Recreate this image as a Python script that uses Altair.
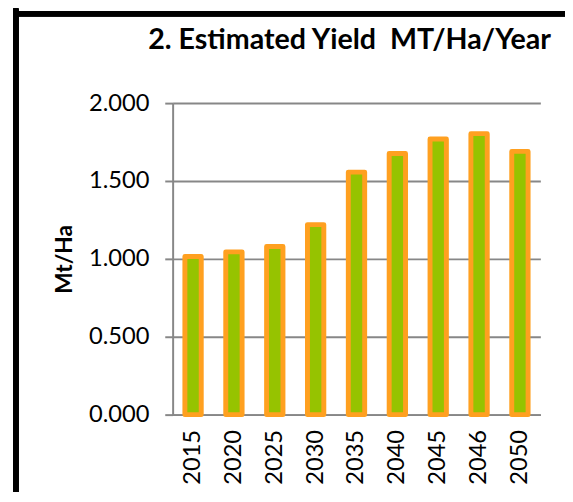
import altair as alt
import pandas as pd

years = ["2015", "2020", "2025", "2030", "2035", "2040", "2045", "2046", "2050"]
yields = [1.015, 1.045, 1.08, 1.22, 1.557, 1.677, 1.77, 1.804, 1.69]

df = pd.DataFrame({"year": years, "yield": yields})

FONT = "Lato"
GRAY = "#878787"

bars = alt.Chart(df).mark_bar(
    fill="#96C300", stroke="#FFA020", strokeWidth=5, strokeJoin="round"
).encode(
    x=alt.X("year:N", sort=years,
            scale=alt.Scale(paddingInner=0.6, paddingOuter=0.3),
            axis=alt.Axis(title=None, labelAngle=-90, ticks=False, tickSize=0,
                          labelPadding=15, labelFontSize=24, labelFont=FONT,
                          labelColor="black", domainColor=GRAY, domainWidth=2,
                          grid=False)),
    y=alt.Y("yield:Q", scale=alt.Scale(domain=[0, 2]),
            axis=alt.Axis(title="Mt/Ha", values=[0, 0.5, 1.0, 1.5, 2.0],
                          format=".3f", tickSize=8, tickColor=GRAY, tickWidth=2,
                          labelPadding=16, labelFontSize=24, labelFont=FONT,
                          labelColor="black", domainColor=GRAY, domainWidth=2,
                          gridColor=GRAY, gridWidth=2,
                          titleFont=FONT, titleFontSize=23, titleFontWeight="bold",
                          titleColor="black", titlePadding=12)),
)

frame_left = alt.Chart(df).mark_rule(color="black", strokeWidth=5).encode(
    x=alt.value(-159), y=alt.value(-96), y2=alt.value(500)
)
frame_top = alt.Chart(df).mark_rule(color="black", strokeWidth=5).encode(
    x=alt.value(-161.5), x2=alt.value(600), y=alt.value(-90.5)
)

chart = alt.layer(bars, frame_left, frame_top).properties(
    width=373, height=316,
    padding={"left": 167, "top": 93, "right": 25, "bottom": 75},
    autosize=alt.AutoSizeParams(type="none"),
    title=alt.TitleParams("2. Estimated Yield\u00a0 MT/Ha/Year", font=FONT,
                          fontSize=29, fontWeight="bold", color="black",
                          anchor="middle", frame="group", dx=-7, offset=-73,
                          baseline="alphabetic"),
).configure_view(stroke=None)

chart.save("out.html", embed_options={"renderer": "svg", "actions": False})
